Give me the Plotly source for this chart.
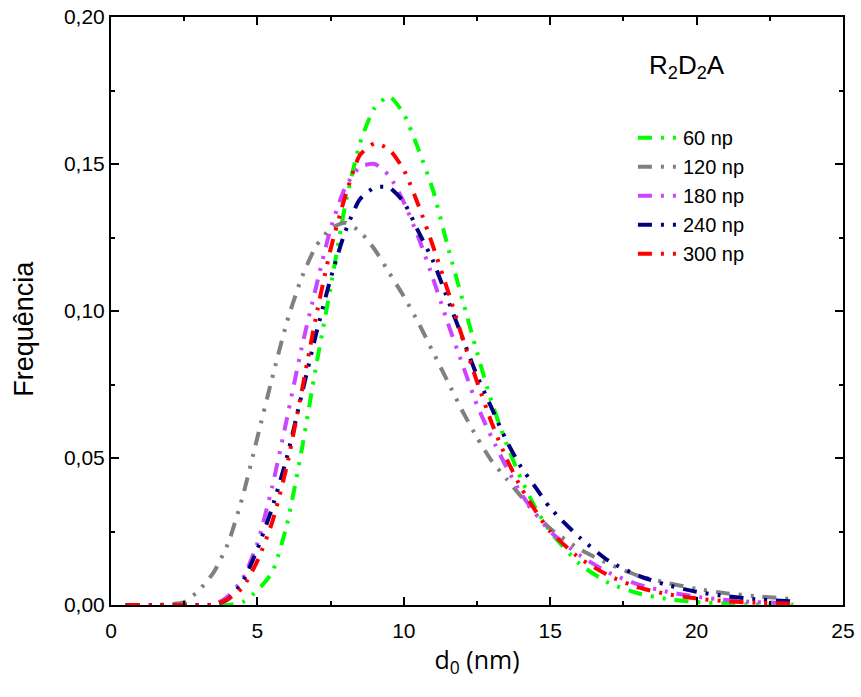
import plotly.graph_objects as go

d0 = [0.5, 1.5, 2.5, 3.0, 3.5, 4.0, 4.5, 5.0, 5.5, 6.0, 6.5, 7.0, 7.5, 8.0, 8.5, 9.0, 9.5,
      10.0, 10.5, 11.0, 11.5, 12.0, 12.5, 13.0, 13.5, 14.0, 14.5, 15.0, 16.0, 17.0, 18.0,
      19.0, 20.0, 21.0, 22.0, 23.3]

np60 = [0, 0, 0, 0, 0, 0, 0.001, 0.005, 0.011, 0.027, 0.052, 0.081, 0.108, 0.136, 0.157, 0.169, 0.173,
        0.167, 0.155, 0.141, 0.122, 0.104, 0.086, 0.069, 0.055, 0.043, 0.033, 0.025, 0.014, 0.0075, 0.004,
        0.002, 0.001, 0.0005, 0.0002, 0.0001]
np120 = [0, 0, 0.001, 0.005, 0.011, 0.021, 0.037, 0.057, 0.077, 0.096, 0.111, 0.122, 0.128, 0.130, 0.127, 0.121, 0.113,
         0.105, 0.096, 0.086, 0.076, 0.066, 0.057, 0.049, 0.043, 0.037, 0.031, 0.026, 0.019, 0.014, 0.010,
         0.0075, 0.0055, 0.004, 0.003, 0.002]
np180 = [0, 0, 0, 0, 0, 0.003, 0.009, 0.021, 0.040, 0.063, 0.087, 0.108, 0.128, 0.142, 0.149, 0.150, 0.146,
         0.137, 0.125, 0.111, 0.096, 0.082, 0.068, 0.057, 0.047, 0.038, 0.031, 0.025, 0.017, 0.011, 0.007,
         0.0045, 0.0028, 0.0017, 0.001, 0.0006]
np240 = [0, 0, 0, 0, 0, 0.002, 0.008, 0.019, 0.033, 0.050, 0.071, 0.092, 0.111, 0.127, 0.138, 0.142, 0.142,
         0.137, 0.127, 0.117, 0.104, 0.091, 0.078, 0.067, 0.056, 0.047, 0.040, 0.033, 0.023, 0.015, 0.010,
         0.0068, 0.0045, 0.003, 0.002, 0.0012]
np300 = [0, 0, 0, 0, 0, 0.002, 0.006, 0.015, 0.028, 0.047, 0.072, 0.098, 0.121, 0.139, 0.153, 0.157, 0.155,
         0.148, 0.136, 0.122, 0.107, 0.091, 0.076, 0.062, 0.050, 0.040, 0.032, 0.025, 0.016, 0.010, 0.006,
         0.0037, 0.0022, 0.0013, 0.0008, 0.0004]

names = ["60 np", "120 np", "180 np", "240 np", "300 np"]
series = [np60, np120, np180, np240, np300]
colors = ["#00FF00", "#808080", "#CC44FF", "#000080", "#FF0000"]
legend_title = "R<sub>2</sub>D<sub>2</sub>A"

fig = go.Figure()
for n, s, c in zip(names, series, colors):
    fig.add_trace(go.Scatter(
        x=d0, y=s, name=n, mode="lines",
        line=dict(color=c, width=4, dash="14px,9px,3px,9px,3px,9px", shape="spline", smoothing=0.6),
    ))

font = "Arial, Liberation Sans, sans-serif"
axis_common = dict(
    showline=True, linecolor="black", linewidth=2, mirror="ticks",
    ticks="inside", ticklen=8, tickwidth=2, tickcolor="black",
    showgrid=False, zeroline=False, ticklabeloverflow="allow", automargin=False,
    tickfont=dict(family=font, size=21, color="black"),
)
fig.update_xaxes(
    range=[0, 25], tickvals=[0, 5, 10, 15, 20, 25], ticklabelstandoff=6,
    minor=dict(ticks="inside", ticklen=4, tickwidth=2, tickcolor="black", dtick=2.5),
    title=dict(text="d<sub>0</sub> (nm)", font=dict(family="Open Sans, sans-serif", size=25, color="black"), standoff=10),
    **axis_common,
)
fig.update_yaxes(
    range=[0, 0.2], tickvals=[0, 0.05, 0.10, 0.15, 0.20], tickformat=".2f",
    minor=dict(ticks="inside", ticklen=4, tickwidth=2, tickcolor="black", dtick=0.025),
    **axis_common,
)
fig.update_layout(
    width=861, height=697,
    margin=dict(l=111, r=18, t=17, b=92),
    paper_bgcolor="white", plot_bgcolor="white",
    separators=",.",
    font=dict(family=font, color="black"),
    legend=dict(
        x=0.713, y=0.828, xanchor="left", yanchor="top",
        bgcolor="rgba(0,0,0,0)",
        font=dict(family=font, size=20, color="black"),
        tracegroupgap=0, itemwidth=40,
    ),
    annotations=[
        dict(text=legend_title, xref="paper", yref="paper", x=0.787, y=0.915,
             xanchor="center", yanchor="middle", showarrow=False,
             font=dict(family=font, size=26, color="black")),
        dict(text="Frequência", xref="paper", yref="paper", x=-0.118, y=0.469,
             xanchor="center", yanchor="middle", showarrow=False, textangle=-90,
             font=dict(family=font, size=27, color="black")),
    ],
)
# remove the default 8px page margin so the figure fills the window exactly
fig.write_html("out.html",
               config={"displayModeBar": False},
               post_script="document.body.style.margin='0';document.body.style.overflow='hidden';")
